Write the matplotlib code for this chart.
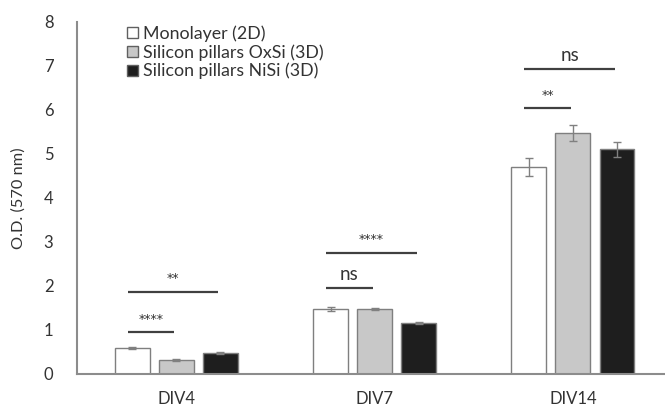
import numpy as np
import matplotlib
matplotlib.use("Agg")
import matplotlib.pyplot as plt
from matplotlib.patches import Patch

plt.rcParams["font.family"] = ["Lato", "DejaVu Sans"]

# ---- data ----
days = ["DIV4", "DIV7", "DIV14"]
series = ["Monolayer (2D)", "Silicon pillars OxSi (3D)", "Silicon pillars NiSi (3D)"]
mono = [0.59, 1.48, 4.70]
oxsi = [0.32, 1.48, 5.48]
nisi = [0.48, 1.16, 5.11]
mono_err = [0.03, 0.04, 0.20]
oxsi_err = [0.03, 0.03, 0.18]
nisi_err = [0.03, 0.03, 0.17]

# significance: (group, compared bar, line height, label)
sig_near = [(0, 1, 0.95, "****"), (1, 1, 1.95, "ns"), (2, 1, 6.04, "**")]
sig_far = [(0, 2, 1.86, "**"), (1, 2, 2.75, "****"), (2, 2, 6.93, "ns")]

fills = ["#ffffff", "#c8c8c8", "#1e1e1e"]
edge = "#7f7f7f"
txt = "#333333"

fig = plt.figure(figsize=(6.65, 4.07), dpi=100)
ax = fig.add_axes([77 / 665, 33 / 407, 588 / 665, 352 / 407])

x = np.arange(len(days))
step = 0.222
width = 0.176
values = [mono, oxsi, nisi]
errs = [mono_err, oxsi_err, nisi_err]
for i, (vals, err, fc, name) in enumerate(zip(values, errs, fills, series)):
    ax.bar(x + (i - 1) * step, vals, width, color=fc, edgecolor=edge,
           linewidth=1.0, label=name, zorder=2)
    ax.errorbar(x + (i - 1) * step, vals, yerr=err, fmt="none",
                ecolor="#808080", elinewidth=1.0, capsize=3, capthick=1.0, zorder=3)

for grp, other, h, lab in sig_near + sig_far:
    x0 = grp - step - 0.023
    x1 = grp + (other - 1) * step - 0.01
    ax.plot([x0, x1], [h, h], color="#404040", lw=1.6, solid_capstyle="butt", zorder=3)
    if lab == "ns":
        ax.text((x0 + x1) / 2, h + 0.12, lab, ha="center", va="bottom",
                fontsize=13.5, color=txt)
    else:
        ax.text((x0 + x1) / 2, h + 0.30, lab, ha="center", va="center",
                fontsize=9, color=txt, family="DejaVu Sans")

ax.set_xlim(-0.5, 2.464)
ax.set_ylim(0, 8)
ax.set_yticks(range(0, 9))
ax.set_xticks(x)
ax.set_xticklabels(days)
ax.tick_params(axis="both", length=0, labelsize=12, labelcolor=txt)
ax.tick_params(axis="y", pad=17)
ax.tick_params(axis="x", pad=12)
for s in ["top", "right"]:
    ax.spines[s].set_visible(False)
for s in ["left", "bottom"]:
    ax.spines[s].set_color("#8c8c8c")
    ax.spines[s].set_linewidth(1.5)
ax.set_ylabel("O.D. (570 nm)", fontsize=11.8, color=txt, labelpad=13)

handles = [Patch(facecolor=fc, edgecolor="#606060", linewidth=1.0) for fc in fills]
ax.legend(handles, series, loc="upper left", bbox_to_anchor=(50 / 588, 0.99),
          frameon=False, fontsize=12.8, handlelength=0.6, handleheight=0.6,
          handletextpad=0.3, labelspacing=0.12, borderpad=0, borderaxespad=0,
          labelcolor=txt)

fig.savefig("out.png", dpi=100)
